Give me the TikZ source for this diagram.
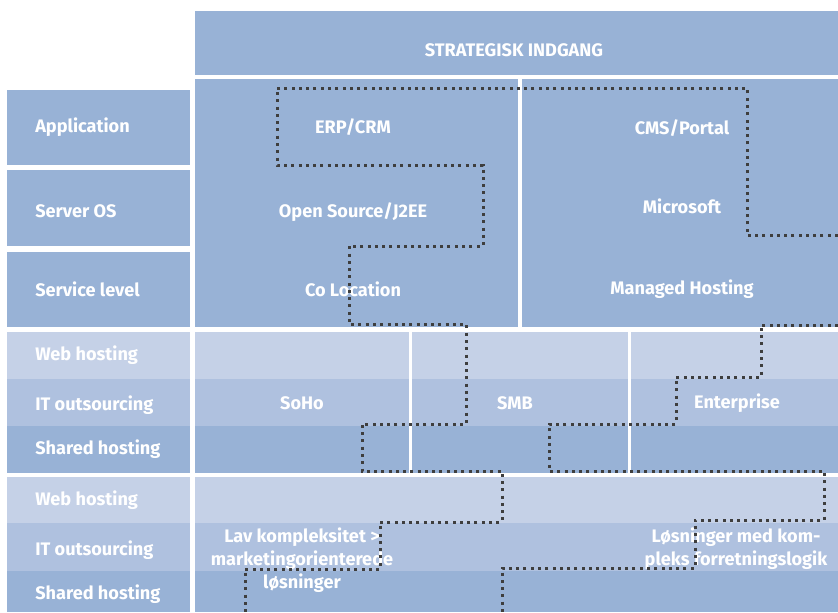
\documentclass[tikz,border=0pt]{standalone}
\usepackage{fontspec}
\setmainfont{Fira Sans}
\definecolor{bandDark}{RGB}{152,178,214}
\definecolor{bandMid}{RGB}{175,193,223}
\definecolor{bandLight}{RGB}{197,209,231}
\definecolor{routeGray}{RGB}{62,62,62}
\begin{document}
\begin{tikzpicture}[x=0.75pt,y=-0.75pt,
	lbl/.style={font=\bfseries\fontsize{13.6}{17.3}\selectfont, text=white, inner sep=0pt, align=center},
	rowlbl/.style={lbl, anchor=west},
	gap/.style={draw=white, line width=#1},
	route/.style={draw=routeGray, line width=2.25pt, dash pattern=on 2.25pt off 3.2pt}]
	\useasboundingbox (0,0) rectangle (838,612);
	
	% top header and upper blocks
	\fill[bandDark] (195,11) rectangle (838,75);
	\fill[bandDark] (7,90) rectangle (190,165);
	\fill[bandDark] (7,170) rectangle (190,246);
	\fill[bandDark] (7,252) rectangle (190,327);
	\fill[bandDark] (195,79) rectangle (518,327);
	\fill[bandDark] (522,79) rectangle (838,327);
	
	% middle band
	\fill[bandLight] (7,332) rectangle (838,379);
	\fill[bandMid] (7,379) rectangle (838,426);
	\fill[bandDark] (7,426) rectangle (838,473);
	\draw[gap=3.2pt] (192.5,332) -- (192.5,473);
	\draw[gap=2.4pt] (410.5,332) -- (410.5,473);
	\draw[gap=2.4pt] (629.5,332) -- (629.5,473);
	
	% lower band
	\fill[bandLight] (7,477) rectangle (838,523);
	\fill[bandMid] (7,523) rectangle (838,571);
	\fill[bandDark] (7,571) rectangle (838,612);
	\draw[gap=3.2pt] (192.5,477) -- (192.5,612);
	
	\node[lbl] (head) at (514,50) {STRATEGISK INDGANG};
	
	\node[rowlbl] (app) at (35,127) {Application};
	\node[rowlbl] (os) at (35,211) {Server OS};
	\node[rowlbl] (sla) at (35,289) {Service level};
	\node[rowlbl] (web1) at (35,355) {Web hosting};
	\node[rowlbl] (ito1) at (35,405) {IT outsourcing};
	\node[rowlbl] (shr1) at (35,449) {Shared hosting};
	\node[rowlbl] (web2) at (35,500) {Web hosting};
	\node[rowlbl] (ito2) at (35,550) {IT outsourcing};
	\node[rowlbl] (shr2) at (35,594) {Shared hosting};
	
	\node[lbl] (erp) at (353,127) {ERP/CRM};
	\node[lbl] (oss) at (353,212) {Open Source/J2EE};
	\node[lbl] (colo) at (353,289) {Co Location};
	\node[lbl] (cms) at (682,128) {CMS/Portal};
	\node[lbl] (ms) at (682,206) {Microsoft};
	\node[lbl] (mh) at (682,289) {Managed Hosting};
	
	\node[lbl] (soho) at (302,403) {SoHo};
	\node[lbl] (smb) at (515,403) {SMB};
	\node[lbl] (ent) at (737,403) {Enterprise};
	
	\node[lbl] (lav) at (302,560) {Lav kompleksitet >\\marketingorienterede\\løsninger};
	\node[lbl] (kom) at (736,549) {Løsninger med kom-\\pleks forretningslogik};
	
	% dotted boundaries
	\draw[route] (838,235) -- (747,235) -- (747,88) -- (277,88) -- (277,165) -- (483,165) -- (483,246)
		-- (349,246) -- (349,324) -- (466,324) -- (466,424) -- (362,424) -- (362,471) -- (502,471)
		-- (502,522) -- (380,522) -- (380,569) -- (245,569) -- (245,612);
	\draw[route] (838,325) -- (761,325) -- (761,377) -- (676,377) -- (676,424) -- (549,424) -- (549,471)
		-- (824,471) -- (824,520) -- (695,520) -- (695,568) -- (502,568) -- (502,612);
	
\end{tikzpicture}
\end{document}
